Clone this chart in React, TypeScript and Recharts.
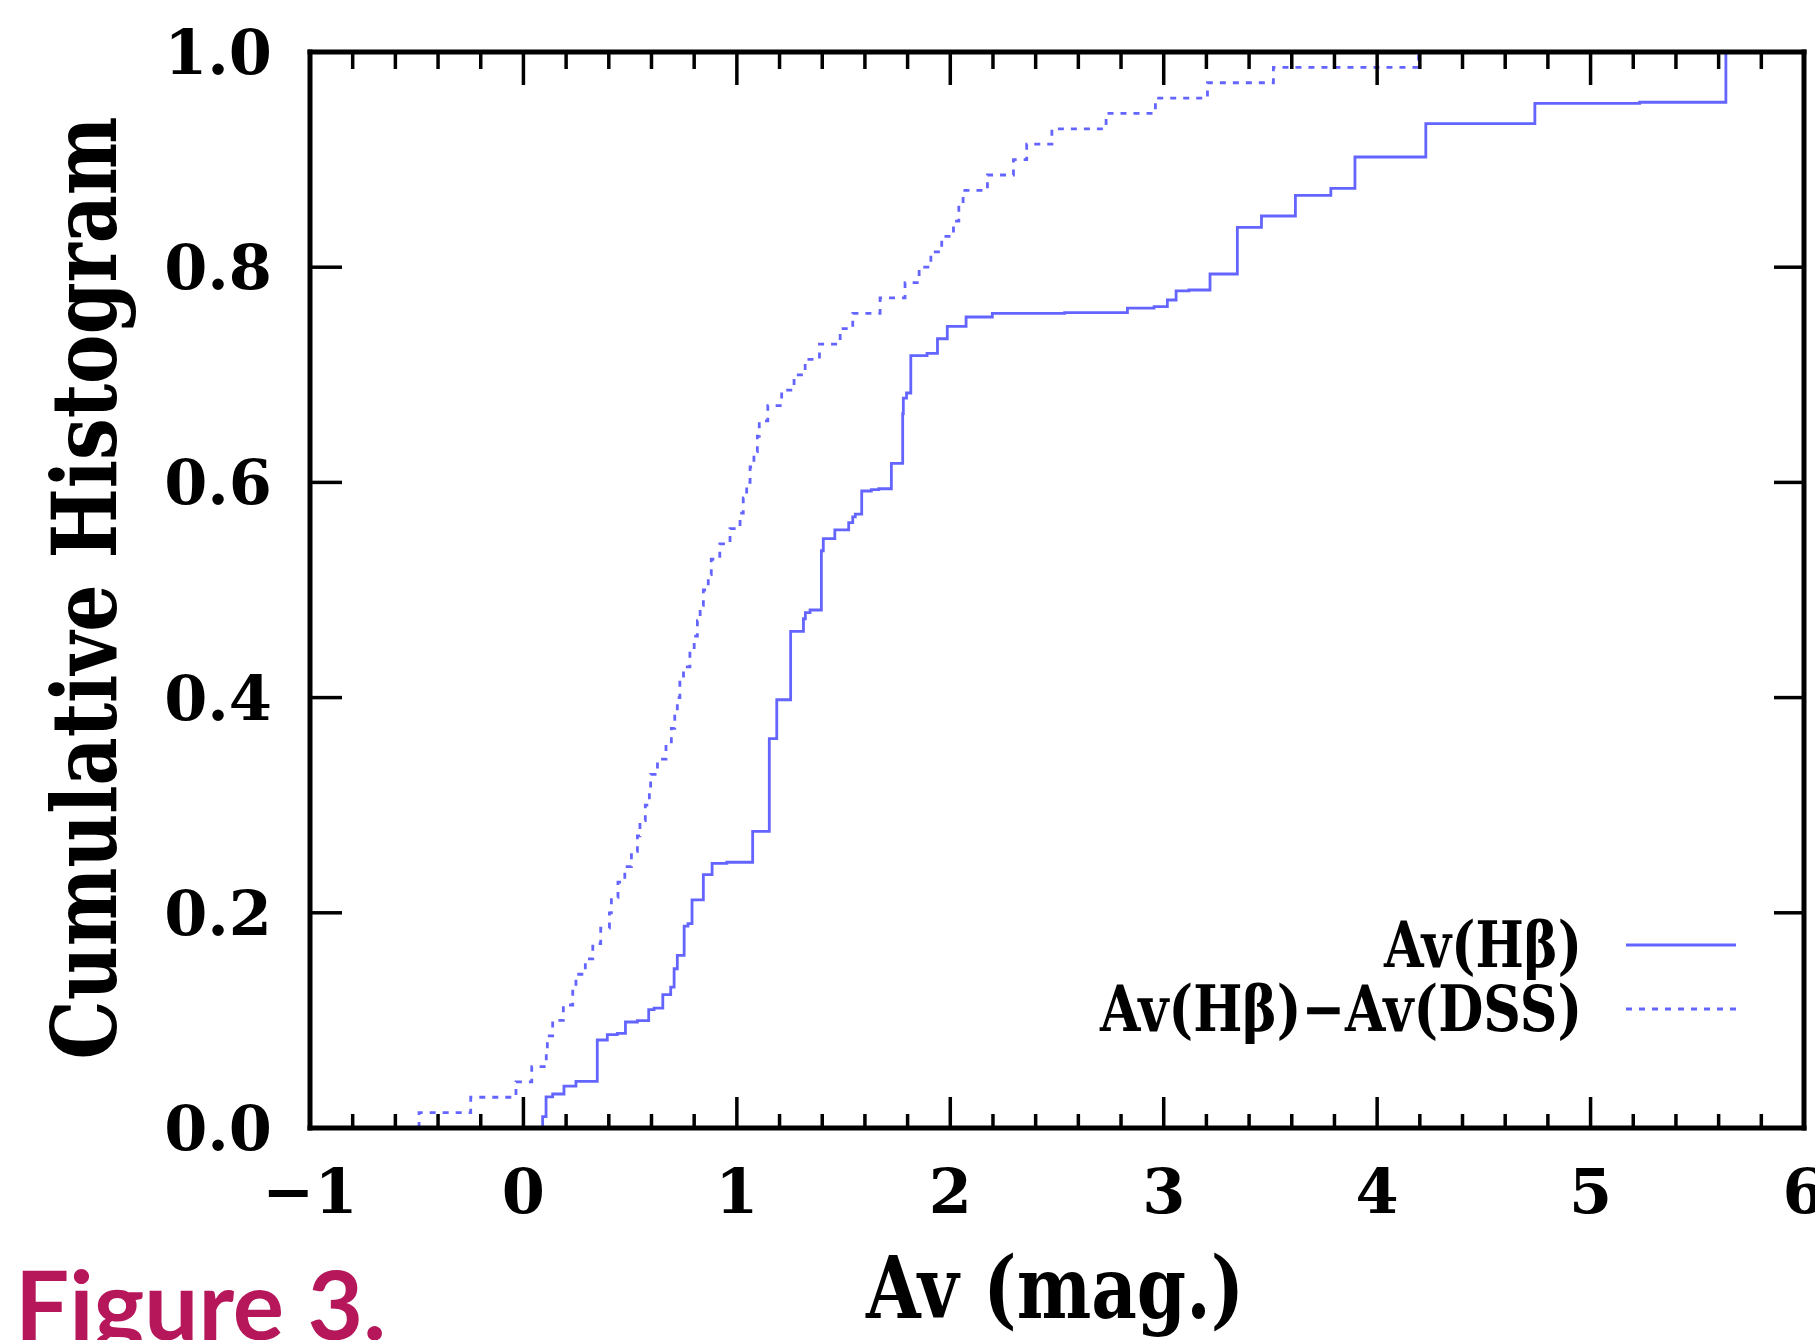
import React from 'react';
import { LineChart, Line, XAxis, YAxis, Legend } from 'recharts';

// Av(Hβ) cumulative histogram (step corners, value holds to next x)
const avHbX = [0.090, 0.090, 0.106, 0.137, 0.190, 0.246, 0.346, 0.393, 0.440, 0.478, 0.534, 0.587, 0.612, 0.653, 0.690, 0.706, 0.721, 0.753, 0.771, 0.790, 0.843, 0.884, 0.953, 1.074, 1.152, 1.187, 1.252, 1.312, 1.321, 1.343, 1.396, 1.405, 1.459, 1.524, 1.543, 1.555, 1.585, 1.630, 1.665, 1.724, 1.777, 1.780, 1.795, 1.815, 1.891, 1.940, 1.986, 2.074, 2.197, 2.536, 2.830, 2.955, 3.017, 3.058, 3.118, 3.217, 3.345, 3.458, 3.617, 3.783, 3.896, 4.228, 4.739, 5.230, 5.634];
const avHbY = [0, 0.0105, 0.029, 0.0316, 0.039, 0.0434, 0.0818, 0.0867, 0.088, 0.0985, 0.0997, 0.110, 0.1115, 0.124, 0.131, 0.148, 0.1605, 0.1877, 0.190, 0.212, 0.2354, 0.246, 0.247, 0.2757, 0.3618, 0.398, 0.4616, 0.4733, 0.479, 0.4814, 0.5365, 0.5477, 0.5558, 0.5626, 0.568, 0.5706, 0.592, 0.5932, 0.5941, 0.6177, 0.664, 0.6784, 0.6831, 0.7178, 0.720, 0.7335, 0.745, 0.7537, 0.757, 0.7577, 0.762, 0.7633, 0.7695, 0.778, 0.7788, 0.7937, 0.837, 0.8476, 0.8668, 0.8733, 0.9024, 0.9334, 0.9523, 0.9533, 1.0];

// Av(Hβ)−Av(DSS) cumulative histogram
const diffX = [-0.489, -0.489, -0.247, -0.035, 0.039, 0.107, 0.112, 0.137, 0.187, 0.231, 0.246, 0.290, 0.325, 0.362, 0.403, 0.412, 0.443, 0.475, 0.506, 0.534, 0.546, 0.571, 0.590, 0.596, 0.628, 0.668, 0.693, 0.709, 0.721, 0.733, 0.750, 0.780, 0.800, 0.815, 0.828, 0.843, 0.866, 0.880, 0.920, 0.968, 1.015, 1.030, 1.046, 1.062, 1.080, 1.096, 1.105, 1.145, 1.210, 1.268, 1.320, 1.387, 1.484, 1.543, 1.671, 1.788, 1.854, 1.909, 1.960, 2.015, 2.040, 2.060, 2.174, 2.296, 2.358, 2.476, 2.730, 2.961, 3.205, 3.514, 4.194];
const diffY = [0, 0.0143, 0.0286, 0.0429, 0.0571, 0.0714, 0.0857, 0.1, 0.1143, 0.1286, 0.1429, 0.1571, 0.1714, 0.1857, 0.2, 0.2143, 0.2286, 0.2429, 0.2571, 0.2714, 0.2857, 0.3, 0.3143, 0.3286, 0.3429, 0.3571, 0.3714, 0.3857, 0.4, 0.4143, 0.4286, 0.4429, 0.4571, 0.4714, 0.4857, 0.5, 0.5143, 0.5286, 0.5429, 0.5571, 0.5714, 0.5857, 0.6, 0.6143, 0.6286, 0.6429, 0.6571, 0.6714, 0.6857, 0.7, 0.7143, 0.7286, 0.7429, 0.7571, 0.7714, 0.7857, 0.8, 0.8143, 0.8286, 0.8429, 0.8571, 0.8714, 0.8857, 0.9, 0.9143, 0.9286, 0.9429, 0.9571, 0.9714, 0.9857, 1.0];

const seriesNames = ['Av(Hβ)', 'Av(Hβ)−Av(DSS)'];

const xMajorTicks = [-1, 0, 1, 2, 3, 4, 5, 6];
const xTickLabels = ['−1', '0', '1', '2', '3', '4', '5', '6'];
const xMinorTicks = [-0.8, -0.6, -0.4, -0.2, 0.2, 0.4, 0.6, 0.8, 1.2, 1.4, 1.6, 1.8, 2.2, 2.4, 2.6, 2.8, 3.2, 3.4, 3.6, 3.8, 4.2, 4.4, 4.6, 4.8, 5.2, 5.4, 5.6, 5.8];
const yTicks = [0, 0.2, 0.4, 0.6, 0.8, 1.0];
const yTickLabels = ['0.0', '0.2', '0.4', '0.6', '0.8', '1.0'];

const W = 1815;
const H = 1340;
// plot area: x 310..1804, y 52..1128 (axes take 1px each)
const MARGIN = { top: 51, left: 309, right: 10, bottom: 211 };
const BLUE = '#6464ff';
const SERIF = '"DejaVu Serif", serif';
const TICK_FONT = 62;

const avHbData = avHbX.map((x, i) => ({ x, y: avHbY[i] }));
const diffData = diffX.map((x, i) => ({ x, y: diffY[i] }));
const allXTicks = [...xMajorTicks, ...xMinorTicks].sort((a, b) => a - b);
const majorIndex = (v: number) => xMajorTicks.findIndex((m) => Math.abs(m - v) < 1e-9);
const yIndex = (v: number) => yTicks.findIndex((m) => Math.abs(m - v) < 1e-9);

function BottomTick(props: any) {
  const { x, y, payload } = props;
  const idx = majorIndex(payload.value);
  const major = idx >= 0;
  return (
    <g>
      <line x1={x} x2={x} y1={y} y2={y - (major ? 31 : 14)} stroke="#000" strokeWidth={3.5} />
      {major && (
        <text x={x} y={y + 85} textAnchor="middle" fontFamily={SERIF} fontWeight="bold" fontSize={TICK_FONT} fill="#000">
          {xTickLabels[idx]}
        </text>
      )}
    </g>
  );
}

function TopTick(props: any) {
  const { x, y, payload } = props;
  const major = majorIndex(payload.value) >= 0;
  return <line x1={x} x2={x} y1={y} y2={y + (major ? 33 : 17)} stroke="#000" strokeWidth={3.5} />;
}

function LeftTick(props: any) {
  const { x, y, payload } = props;
  const idx = yIndex(payload.value);
  return (
    <g>
      <line x1={x} x2={x + 32} y1={y} y2={y} stroke="#000" strokeWidth={3.5} />
      <text x={x - 38} y={y + 22} textAnchor="end" fontFamily={SERIF} fontWeight="bold" fontSize={TICK_FONT} fill="#000">
        {idx >= 0 ? yTickLabels[idx] : String(payload.value)}
      </text>
    </g>
  );
}

function RightTick(props: any) {
  const { x, y } = props;
  return <line x1={x} x2={x - 30} y1={y} y2={y} stroke="#000" strokeWidth={3.5} />;
}

const legendTextLen = [198, 482];

function LegendContent(props: any) {
  const payload = props.payload || [];
  return (
    <svg width={720} height={150} style={{ overflow: 'visible', display: 'block' }}>
      {payload.map((e: any, i: number) => {
        const cy = 45 + i * 64;
        return (
          <g key={i}>
            <text
              x={502}
              y={cy + 22}
              textAnchor="end"
              fontFamily={SERIF}
              fontWeight="bold"
              fontSize={64}
              fill="#000"
              textLength={legendTextLen[i]}
              lengthAdjust="spacingAndGlyphs"
            >
              {e.value}
            </text>
            <line
              x1={546}
              x2={656}
              y1={cy}
              y2={cy}
              stroke={e.color}
              strokeWidth={2.8}
              strokeDasharray={e.payload && e.payload.strokeDasharray ? e.payload.strokeDasharray : undefined}
            />
          </g>
        );
      })}
    </svg>
  );
}

const axisLineStyle = { stroke: '#000', strokeWidth: 5, strokeLinecap: 'square' as const };

export default function App() {
  return (
    <div style={{ position: 'absolute', left: 0, top: 0, width: W, height: H, background: '#fff', overflow: 'hidden' }}>
      <LineChart width={W} height={H} margin={MARGIN}>
        <XAxis
          xAxisId="b"
          type="number"
          dataKey="x"
          domain={[-1, 6]}
          allowDataOverflow
          ticks={allXTicks}
          interval={0}
          height={1}
          tickSize={0}
          tickMargin={0}
          tickLine={false}
          axisLine={axisLineStyle}
          tick={(p: any) => <BottomTick {...p} />}
        />
        <XAxis
          xAxisId="t"
          orientation="top"
          type="number"
          dataKey="x"
          domain={[-1, 6]}
          allowDataOverflow
          ticks={allXTicks}
          interval={0}
          height={1}
          tickSize={0}
          tickMargin={0}
          tickLine={false}
          axisLine={axisLineStyle}
          tick={(p: any) => <TopTick {...p} />}
        />
        <YAxis
          yAxisId="l"
          type="number"
          domain={[0, 1]}
          allowDataOverflow
          ticks={yTicks}
          interval={0}
          width={1}
          tickSize={0}
          tickMargin={0}
          tickLine={false}
          axisLine={axisLineStyle}
          tick={(p: any) => <LeftTick {...p} />}
        />
        <YAxis
          yAxisId="r"
          orientation="right"
          type="number"
          domain={[0, 1]}
          allowDataOverflow
          ticks={yTicks}
          interval={0}
          width={1}
          tickSize={0}
          tickMargin={0}
          tickLine={false}
          axisLine={axisLineStyle}
          tick={(p: any) => <RightTick {...p} />}
        />
        <Line
          xAxisId="b"
          yAxisId="l"
          data={avHbData}
          dataKey="y"
          name={seriesNames[0]}
          type="stepAfter"
          stroke={BLUE}
          strokeWidth={2.8}
          dot={false}
          activeDot={false}
          isAnimationActive={false}
        />
        <Line
          xAxisId="b"
          yAxisId="l"
          data={diffData}
          dataKey="y"
          name={seriesNames[1]}
          type="stepAfter"
          stroke={BLUE}
          strokeWidth={2.8}
          strokeDasharray="6 7"
          dot={false}
          activeDot={false}
          isAnimationActive={false}
        />
        <Legend
          layout="vertical"
          align="center"
          verticalAlign="middle"
          content={(p: any) => <LegendContent {...p} />}
          wrapperStyle={{ position: 'absolute', left: 1080, top: 900, width: 720, height: 150, margin: 0, padding: 0 }}
        />
      </LineChart>
      <svg width={W} height={H} style={{ position: 'absolute', left: 0, top: 0, pointerEvents: 'none' }}>
        <text
          transform="translate(116, 588) rotate(-90)"
          textAnchor="middle"
          fontFamily={SERIF}
          fontWeight="bold"
          fontSize={89}
          fill="#000"
          textLength={943}
          lengthAdjust="spacingAndGlyphs"
        >
          Cumulative Histogram
        </text>
        <text
          x={1055}
          y={1318}
          textAnchor="middle"
          fontFamily={SERIF}
          fontWeight="bold"
          fontSize={86}
          fill="#000"
          textLength={378}
          lengthAdjust="spacingAndGlyphs"
        >
          Av (mag.)
        </text>
        <text x={15} y={1340} fontFamily="Lato, sans-serif" fontWeight={700} fontSize={96} fill="#b5175a">
          Figure 3.
        </text>
      </svg>
    </div>
  );
}
